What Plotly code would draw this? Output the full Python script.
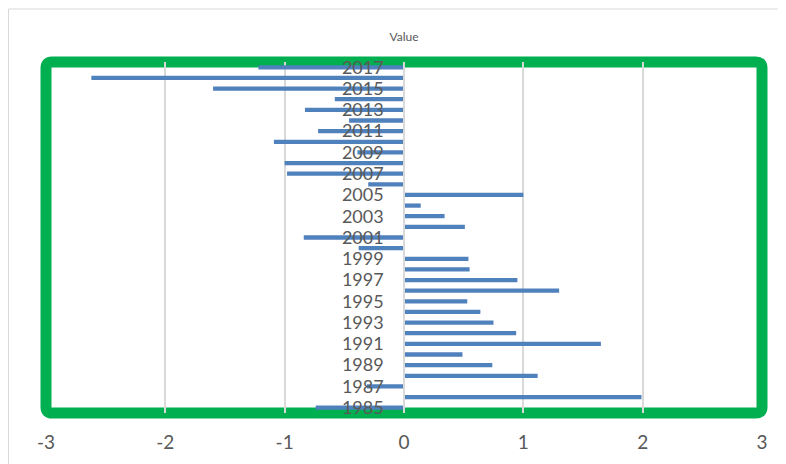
import plotly.graph_objects as go

years = [str(y) for y in range(1985, 2018)]
values = [-0.74, 1.99, -0.31, 1.12, 0.74, 0.49, 1.65, 0.94, 0.75, 0.64,
          0.53, 1.30, 0.95, 0.55, 0.54, -0.38, -0.84, 0.51, 0.34, 0.14,
          1.00, -0.30, -0.98, -1.00, -0.39, -1.09, -0.72, -0.46, -0.83, -0.58,
          -1.60, -2.62, -1.22]
y_tick_labels = years[::2]
x_ticks = [-3, -2, -1, 0, 1, 2, 3]

# the page body adds an 8px offset, so the figure is sized/margined to compensate
W, H = 778, 456
L, R, T, B = 38, 24, 54, 51
pw, ph = W - L - R, H - T - B

fig = go.Figure()
fig.add_trace(go.Bar(
    x=values, y=years, orientation="h",
    marker=dict(color="#4f81bd", line=dict(width=0)),
    hoverinfo="x+y",
))

# rounded green border around the plot area (paper coords)
rx, ry = 6 / pw, 6 / ph
x0, x1, y0, y1 = 0, 1, 0, 1
path = (f"M {x0+rx},{y1} L {x1-rx},{y1} Q {x1},{y1} {x1},{y1-ry} "
        f"L {x1},{y0+ry} Q {x1},{y0} {x1-rx},{y0} "
        f"L {x0+rx},{y0} Q {x0},{y0} {x0},{y0+ry} "
        f"L {x0},{y1-ry} Q {x0},{y1} {x0+rx},{y1} Z")

shapes = [
    dict(type="path", xref="paper", yref="paper", path=path,
         line=dict(color="#00b050", width=11), layer="below"),
    dict(type="rect", xref="paper", yref="paper",
         x0=(0.5 - L) / pw, x1=1.2, y0=-0.3, y1=1 + (T - 1) / ph,
         line=dict(color="#d9d9d9", width=1), layer="below"),
]

fig.update_layout(
    width=W, height=H,
    margin=dict(l=L, r=R, t=T, b=B, pad=0),
    paper_bgcolor="white", plot_bgcolor="white",
    showlegend=False,
    bargap=0.6,
    font=dict(family="Lato, Open Sans, sans-serif", color="#595959"),
    title=dict(text="Value", x=(L + pw / 2) / W, xanchor="center",
               y=1 - 29 / H, yanchor="middle",
               font=dict(size=12, color="#595959")),
    shapes=shapes,
    xaxis=dict(range=[-3, 3], tickvals=x_ticks, ticktext=[str(v) for v in x_ticks],
               showgrid=True, gridcolor="#d9d9d9", gridwidth=1.5,
               zeroline=False, showline=False, ticks="",
               tickfont=dict(size=19, color="#595959"),
               ticklabelstandoff=16, fixedrange=True),
    yaxis=dict(type="category", categoryorder="array", categoryarray=years,
               range=[-0.5, len(years) - 0.5],
               tickvals=y_tick_labels, ticktext=y_tick_labels,
               anchor="free", position=0.5, side="left",
               showline=True, linecolor="#d9d9d9", linewidth=1.5,
               showgrid=False, zeroline=False, ticks="",
               tickfont=dict(size=18, color="#595959"),
               ticklabelstandoff=16, fixedrange=True),
)

fig.write_html("out.html")
